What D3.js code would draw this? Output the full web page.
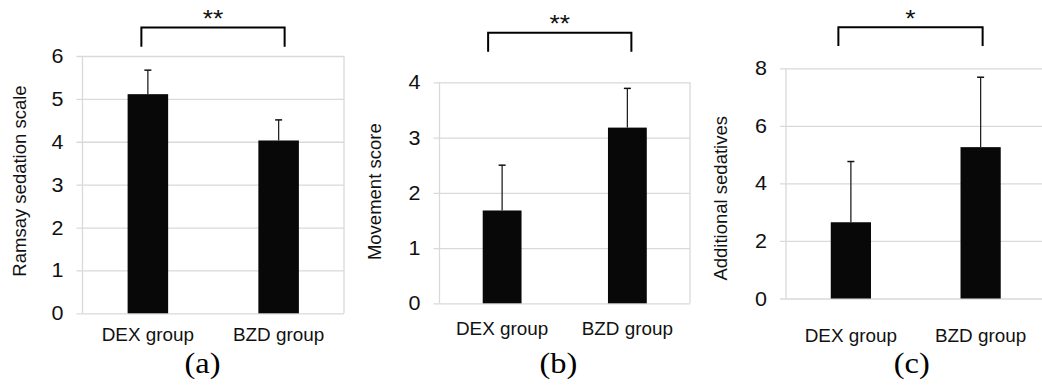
<!DOCTYPE html>
<html>
<head>
<meta charset="utf-8">
<script src="https://cdn.jsdelivr.net/npm/d3@7"></script>
<style>
  html, body { margin: 0; padding: 0; background: #fff; }
  svg { display: block; }
</style>
</head>
<body>
<script>
// ---------- data ----------
const categories = ["DEX group", "BZD group"];

const ramsayMean = [5.11, 4.03];
const ramsaySD   = [0.56, 0.48];

const movementMean = [1.68, 3.18];
const movementSD   = [0.82, 0.71];

const sedativesMean = [2.65, 5.26];
const sedativesSD   = [2.11, 2.43];

const ramsayTicks    = [0, 1, 2, 3, 4, 5, 6];
const movementTicks  = [0, 1, 2, 3, 4];
const sedativesTicks = [0, 2, 4, 6, 8];

const yTitles      = ["Ramsay sedation scale", "Movement score", "Additional sedatives"];
const significance = ["**", "**", "*"];
const panelLabels  = ["(a)", "(b)", "(c)"];

// ---------- layout ----------
const W = 1042, H = 385;
const panels = [
  { mean: ramsayMean, sd: ramsaySD, ticks: ramsayTicks, max: 6,
    left: 82.5, right: 344, top: 56, bottom: 313.3, labelY: 341,
    titleX: 26, titleY: 181, letterX: 202.5,
    br: { l: -6.5, r: 6, top: 27.5, bot: 46.7, starY: 27 } },
  { mean: movementMean, sd: movementSD, ticks: movementTicks, max: 4,
    left: 439.5, right: 690, top: 82.3, bottom: 303.3, labelY: 335,
    titleX: 381, titleY: 191.7, letterX: 558.3,
    br: { l: -14, r: 4, top: 32.7, bot: 51.7, starY: 32 } },
  { mean: sedativesMean, sd: sedativesSD, ticks: sedativesTicks, max: 8,
    left: 786, right: 1045.5, top: 68.3, bottom: 298.5, labelY: 341.7,
    titleX: 726.5, titleY: 198.3, letterX: 911.7,
    br: { l: -12.5, r: 2, top: 27.3, bot: 46, starY: 27 } }
];

const textColor = "#111";
const gridColor = "#d9d9d9";
const sans = "'Liberation Sans', Arial, sans-serif";
const serif = "'Liberation Serif', 'Times New Roman', serif";

const svg = d3.select("body").append("svg")
  .attr("width", W).attr("height", H)
  .attr("viewBox", `0 0 ${W} ${H}`);
svg.append("rect").attr("width", W).attr("height", H).attr("fill", "#fff");

panels.forEach((p, i) => {
  const g = svg.append("g");
  const x = d3.scaleBand().domain(categories)
    .range([p.left, p.right]).paddingInner(0.69).paddingOuter(0.345);
  const y = d3.scaleLinear().domain([0, p.max]).range([p.bottom, p.top]);
  const pw = p.right - p.left;

  // gridlines + y ticks
  const ya = g.append("g")
    .attr("transform", `translate(${p.left - 6},0)`)
    .call(d3.axisLeft(y).tickValues(p.ticks).tickSize(-(pw + 6)).tickPadding(13).tickFormat(d3.format("d")));
  ya.select(".domain").remove();
  ya.selectAll(".tick line").attr("stroke", gridColor).attr("stroke-width", 1.3);
  ya.selectAll(".tick text")
    .attr("font-family", sans).attr("font-size", 20.5).attr("fill", textColor)
    .attr("x", -13 / 1.05).attr("transform", "scale(1.05,1)");

  // plot borders (left/right)
  g.append("line").attr("x1", p.left).attr("x2", p.left)
    .attr("y1", y(p.max)).attr("y2", y(0))
    .attr("stroke", gridColor).attr("stroke-width", 1.3);
  g.append("line").attr("x1", p.right).attr("x2", p.right)
    .attr("y1", y(p.max)).attr("y2", y(0))
    .attr("stroke", gridColor).attr("stroke-width", 1.3);

  // x labels
  const xa = g.append("g")
    .attr("transform", `translate(0,${p.bottom})`)
    .call(d3.axisBottom(x).tickSize(0).tickPadding(0));
  xa.select(".domain").remove();
  xa.selectAll(".tick text")
    .attr("font-family", sans).attr("font-size", 17.5).attr("fill", textColor)
    .attr("dy", 0).attr("y", p.labelY - p.bottom)
    .attr("transform", "scale(1.08,1)");

  // bars
  g.selectAll("rect.bar").data(categories).enter().append("rect")
    .attr("class", "bar")
    .attr("x", d => x(d)).attr("width", x.bandwidth())
    .attr("y", (d, j) => y(p.mean[j]))
    .attr("height", (d, j) => y(0) - y(p.mean[j]))
    .attr("fill", "#080808");

  // error bars (upper only)
  const eb = g.selectAll("g.err").data(categories).enter().append("g").attr("class", "err");
  eb.append("line")
    .attr("x1", d => x(d) + x.bandwidth() / 2).attr("x2", d => x(d) + x.bandwidth() / 2)
    .attr("y1", (d, j) => y(p.mean[j])).attr("y2", (d, j) => y(p.mean[j] + p.sd[j]))
    .attr("stroke", "#222").attr("stroke-width", 1.3);
  eb.append("line")
    .attr("x1", d => x(d) + x.bandwidth() / 2 - 3.5).attr("x2", d => x(d) + x.bandwidth() / 2 + 3.5)
    .attr("y1", (d, j) => y(p.mean[j] + p.sd[j])).attr("y2", (d, j) => y(p.mean[j] + p.sd[j]))
    .attr("stroke", "#111").attr("stroke-width", 1.5);

  // y title
  g.append("text")
    .attr("transform", `translate(${p.titleX},${p.titleY}) rotate(-90)`)
    .attr("text-anchor", "middle")
    .attr("font-family", sans).attr("font-size", 18.5).attr("fill", textColor)
    .text(yTitles[i]);

  // significance bracket
  const cx0 = x(categories[0]) + x.bandwidth() / 2 + p.br.l;
  const cx1 = x(categories[1]) + x.bandwidth() / 2 + p.br.r;
  g.append("path")
    .attr("d", d3.line()([[cx0, p.br.bot], [cx0, p.br.top], [cx1, p.br.top], [cx1, p.br.bot]]))
    .attr("fill", "none").attr("stroke", "#000").attr("stroke-width", 2);
  g.append("text")
    .attr("transform", `translate(${(cx0 + cx1) / 2},${p.br.starY}) scale(1.1,1)`)
    .attr("text-anchor", "middle")
    .attr("font-family", sans).attr("font-size", 24).attr("fill", textColor)
    .text(significance[i]);

  // panel label
  g.append("text")
    .attr("transform", `translate(${p.letterX},373) scale(1.08,1)`)
    .attr("text-anchor", "middle")
    .attr("font-family", serif).attr("font-size", 30).attr("fill", "#000")
    .text(panelLabels[i]);
});
</script>
</body>
</html>
